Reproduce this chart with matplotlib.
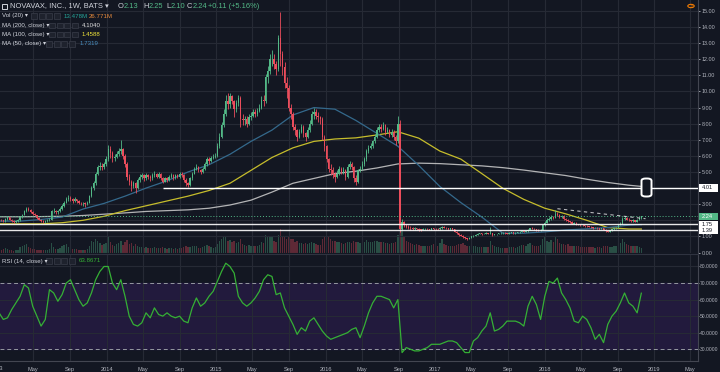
import matplotlib
matplotlib.use("Agg")
import matplotlib.pyplot as plt
from matplotlib.patches import Rectangle, FancyBboxPatch, Circle
import pandas as pd

W, H = 720, 372
BG = "#131722"
GRID = "#262a35"
TXT = "#b2b5be"
UP = "#53b987"
DOWN = "#eb4d5c"
FONT = ["Liberation Sans", "DejaVu Sans"]

# weekly candles from the week of 2013-01-07, open = previous close
first_open = 2.0
close = [
    2.05, 2.0, 1.95, 2.1, 2.2, 2.05, 1.95, 1.9, 1.95, 2.0,
    2.2, 2.35, 2.55, 2.7, 2.65, 2.5, 2.4, 2.3, 2.15, 2.05,
    1.95, 1.9, 1.95, 2.0, 2.05, 2.55, 2.6, 2.5, 2.55, 2.7,
    2.9, 3.1, 3.3, 3.4, 3.35, 3.2, 3.3, 3.2, 3.1, 3.05,
    3.05, 3.0, 3.1, 3.5, 4.0, 4.3, 4.9, 5.3, 5.4, 5.3,
    5.5, 5.8, 6.4, 6.2, 5.9, 5.95, 6.1, 6.3, 6.4, 6.0,
    5.5, 4.7, 4.4, 4.1, 4.3, 4.0, 4.5, 4.7, 4.8, 4.6,
    4.8, 4.7, 4.6, 4.8, 4.9, 4.7, 4.9, 4.6, 4.4, 4.6,
    4.5, 4.7, 4.8, 4.6, 4.8, 4.7, 4.9, 4.8, 4.5, 4.3,
    4.2, 4.6, 4.9, 5.2, 5.3, 5.1, 5.0, 5.2, 5.5, 5.8,
    5.7, 5.9, 5.95, 6.0, 6.6, 7.2, 7.9, 8.6, 9.4, 9.2,
    9.7, 9.4, 8.9, 9.3, 9.6, 8.3, 8.2, 8.3, 8.0, 8.4,
    8.5, 8.7, 8.6, 8.8, 9.0, 9.5, 9.4, 10.9, 11.3, 12.0,
    12.0, 11.7, 11.4, 13.3, 12.3, 11.5, 10.5, 10.2, 9.0, 8.6,
    7.8, 7.6, 7.2, 7.5, 7.8, 7.4, 7.2, 7.6, 8.0, 8.6,
    8.7, 8.5, 8.4, 8.3, 7.2, 6.6, 5.8, 5.2, 5.1, 4.9,
    4.7, 4.9, 5.2, 5.0, 5.1, 4.7, 5.3, 5.5, 5.3, 4.6,
    4.4, 5.1, 5.2, 5.5, 5.8, 6.3, 6.5, 6.6, 6.9, 7.2,
    7.6, 7.8, 7.7, 7.9, 7.5, 7.6, 7.3, 7.5, 7.2, 6.9,
    8.0, 1.45, 1.9, 1.7, 1.6, 1.55, 1.5, 1.45, 1.5, 1.45,
    1.42, 1.4, 1.45, 1.48, 1.44, 1.42, 1.5, 1.48, 1.45, 1.44,
    1.5, 1.6, 1.55, 1.5, 1.45, 1.5, 1.45, 1.3, 1.2, 1.1,
    1.05, 0.95, 0.9, 0.85, 0.9, 1.0, 1.05, 1.1, 1.15, 1.2,
    1.15, 1.18, 1.2, 1.17, 1.2, 1.1, 1.12, 1.15, 1.2, 1.2,
    1.22, 1.2, 1.18, 1.22, 1.25, 1.2, 1.22, 1.25, 1.28, 1.35,
    1.3, 1.32, 1.4, 1.5, 1.48, 1.45, 1.4, 1.38, 1.42, 1.7,
    1.85, 2.05, 2.1, 2.2, 2.15, 2.4, 2.35, 2.2, 2.25, 2.1,
    2.05, 1.95, 1.9, 1.8, 1.85, 1.75, 1.72, 1.7, 1.68, 1.65,
    1.62, 1.6, 1.58, 1.52, 1.55, 1.5, 1.45, 1.5, 1.42, 1.35,
    1.3, 1.38, 1.45, 1.5, 1.55, 1.7, 1.8, 2.1, 2.15, 2.05,
    2.0, 1.95, 2.0, 1.92, 2.05, 2.13, 2.24,
]
high = [
    2.12, 2.1, 2.05, 2.15, 2.28, 2.22, 2.1, 2.0, 2.02, 2.08,
    2.25, 2.42, 2.62, 2.85, 2.8, 2.7, 2.55, 2.45, 2.35, 2.2,
    2.1, 2.0, 2.02, 2.08, 2.12, 2.65, 2.75, 2.65, 2.65, 2.8,
    3.0, 3.2, 3.45, 3.6, 3.5, 3.4, 3.45, 3.35, 3.25, 3.15,
    3.15, 3.12, 3.2, 3.6, 4.1, 4.45, 5.0, 5.45, 5.6, 5.55,
    5.65, 6.0, 6.7, 6.6, 6.3, 6.1, 6.3, 6.5, 7.0, 6.5,
    6.1, 5.6, 4.9, 4.5, 4.45, 4.4, 4.6, 4.85, 4.95, 4.9,
    4.95, 4.9, 4.8, 4.95, 5.05, 4.95, 5.0, 4.95, 4.7, 4.7,
    4.7, 4.8, 4.95, 4.85, 4.9, 4.85, 5.0, 5.0, 4.85, 4.6,
    4.4, 4.7, 5.0, 5.3, 5.5, 5.35, 5.2, 5.3, 5.6, 5.95,
    5.95, 6.0, 6.1, 6.15, 6.8, 7.4, 8.1, 8.9, 9.8, 9.9,
    9.9, 9.8, 9.5, 9.5, 9.8, 9.7, 8.6, 8.5, 8.45, 8.6,
    8.7, 8.9, 8.9, 9.0, 9.2, 9.7, 9.8, 11.1, 11.6, 12.3,
    12.6, 12.3, 11.9, 13.5, 14.96, 12.5, 11.8, 10.9, 10.4, 9.2,
    8.7, 8.0, 7.7, 7.7, 8.0, 7.9, 7.5, 7.8, 8.2, 8.8,
    9.0, 8.9, 8.7, 8.5, 8.4, 7.3, 6.7, 5.9, 5.5, 5.3,
    5.0, 5.1, 5.4, 5.3, 5.3, 5.2, 5.5, 5.7, 5.6, 5.4,
    4.8, 5.2, 5.4, 5.7, 5.95, 6.45, 6.7, 6.8, 7.0, 7.35,
    7.8, 8.0, 8.0, 8.1, 8.0, 7.8, 7.7, 7.7, 7.6, 7.3,
    8.5, 8.2, 2.1, 1.95, 1.75, 1.7, 1.62, 1.56, 1.56, 1.55,
    1.5, 1.46, 1.5, 1.52, 1.5, 1.47, 1.55, 1.55, 1.5, 1.5,
    1.56, 1.65, 1.63, 1.58, 1.52, 1.54, 1.52, 1.47, 1.33, 1.22,
    1.13, 1.08, 0.98, 0.93, 0.95, 1.03, 1.1, 1.14, 1.19, 1.24,
    1.23, 1.22, 1.25, 1.22, 1.6, 1.22, 1.16, 1.18, 1.23, 1.25,
    1.26, 1.25, 1.22, 1.25, 1.28, 1.27, 1.25, 1.28, 1.32, 1.4,
    1.38, 1.36, 1.45, 1.55, 1.56, 1.52, 1.48, 1.43, 1.46, 1.75,
    1.95, 2.12, 2.2, 2.3, 2.28, 2.64, 2.5, 2.4, 2.32, 2.3,
    2.15, 2.08, 1.98, 1.95, 1.9, 1.88, 1.8, 1.76, 1.74, 1.72,
    1.7, 1.66, 1.64, 1.6, 1.58, 1.57, 1.52, 1.53, 1.52, 1.45,
    1.4, 1.42, 1.48, 1.55, 1.6, 1.75, 1.88, 2.2, 2.25, 2.2,
    2.12, 2.05, 2.06, 2.05, 2.1, 2.18, 2.25,
]
low = [
    1.95, 1.94, 1.9, 1.92, 2.05, 2.0, 1.9, 1.85, 1.86, 1.92,
    1.98, 2.15, 2.3, 2.5, 2.55, 2.45, 2.35, 2.25, 2.1, 2.0,
    1.9, 1.84, 1.86, 1.9, 1.95, 2.0, 2.45, 2.42, 2.42, 2.5,
    2.65, 2.85, 3.05, 3.2, 3.2, 3.1, 3.15, 3.1, 3.0, 2.95,
    2.9, 2.85, 2.92, 3.05, 3.45, 3.9, 4.2, 4.8, 5.15, 5.1,
    5.2, 5.4, 5.7, 5.9, 5.6, 5.7, 5.85, 6.0, 6.1, 5.8,
    5.3, 4.5, 4.2, 3.8, 4.0, 3.7, 3.95, 4.4, 4.55, 4.45,
    4.5, 4.55, 4.45, 4.5, 4.7, 4.6, 4.6, 4.5, 4.3, 4.35,
    4.4, 4.45, 4.6, 4.5, 4.55, 4.6, 4.65, 4.7, 4.4, 4.1,
    4.05, 4.15, 4.5, 4.85, 5.1, 5.0, 4.85, 4.95, 5.15, 5.4,
    5.5, 5.65, 5.8, 5.85, 5.95, 6.5, 7.1, 7.8, 8.5, 8.9,
    9.0, 9.2, 8.4, 8.7, 9.1, 7.8, 7.9, 7.9, 7.8, 7.9,
    8.2, 8.4, 8.4, 8.5, 8.7, 8.9, 9.1, 9.3, 10.5, 11.1,
    11.6, 11.4, 11.0, 11.3, 11.6, 11.0, 10.2, 9.6, 8.8, 8.3,
    7.6, 7.3, 6.9, 7.1, 7.4, 7.2, 6.9, 7.1, 7.5, 7.9,
    8.3, 8.3, 8.1, 8.0, 7.0, 6.3, 5.6, 5.0, 4.8, 4.6,
    4.4, 4.6, 4.8, 4.85, 4.9, 4.5, 4.6, 5.2, 5.1, 4.4,
    4.2, 4.3, 5.0, 5.15, 5.4, 5.7, 6.2, 6.4, 6.5, 6.8,
    7.1, 7.5, 7.5, 7.6, 7.3, 7.4, 7.2, 7.2, 7.0, 6.7,
    6.8, 1.3, 1.4, 1.6, 1.5, 1.45, 1.42, 1.38, 1.4, 1.38,
    1.35, 1.33, 1.38, 1.41, 1.4, 1.37, 1.4, 1.42, 1.4, 1.38,
    1.42, 1.48, 1.5, 1.45, 1.4, 1.42, 1.4, 1.25, 1.15, 1.05,
    1.0, 0.92, 0.86, 0.8, 0.83, 0.88, 0.98, 1.02, 1.08, 1.12,
    1.1, 1.12, 1.14, 1.13, 1.14, 1.05, 1.07, 1.1, 1.13, 1.15,
    1.16, 1.16, 1.14, 1.15, 1.19, 1.17, 1.18, 1.2, 1.23, 1.27,
    1.26, 1.27, 1.3, 1.38, 1.43, 1.4, 1.36, 1.34, 1.35, 1.4,
    1.65, 1.82, 1.98, 2.05, 2.08, 2.12, 2.25, 2.15, 2.12, 2.05,
    1.98, 1.9, 1.85, 1.75, 1.76, 1.7, 1.68, 1.65, 1.63, 1.6,
    1.58, 1.56, 1.54, 1.48, 1.5, 1.46, 1.4, 1.43, 1.38, 1.3,
    1.26, 1.28, 1.35, 1.42, 1.48, 1.52, 1.68, 1.78, 2.02, 2.0,
    1.95, 1.9, 1.92, 1.88, 1.9, 2.0, 2.10,
]
# weekly volume, millions
volume = [
    8, 7, 9, 12, 10, 8, 7, 6, 7, 8,
    14, 16, 20, 22, 15, 12, 10, 9, 8, 8,
    7, 7, 8, 8, 9, 25, 14, 10, 9, 12,
    18, 20, 22, 15, 12, 10, 11, 9, 8, 8,
    7, 7, 9, 18, 30, 28, 35, 30, 25, 20,
    22, 25, 40, 28, 20, 18, 22, 25, 30, 20,
    28, 32, 22, 25, 18, 22, 18, 15, 14, 12,
    14, 12, 12, 13, 14, 12, 13, 12, 14, 12,
    11, 12, 13, 11, 12, 11, 12, 12, 14, 16,
    15, 14, 16, 18, 16, 13, 12, 14, 18, 20,
    16, 14, 13, 14, 22, 30, 35, 38, 40, 30,
    32, 28, 30, 25, 28, 35, 22, 20, 18, 20,
    18, 17, 16, 18, 20, 28, 25, 45, 40, 42,
    38, 30, 28, 45, 60, 40, 38, 35, 40, 35,
    35, 28, 30, 25, 24, 22, 25, 22, 24, 28,
    25, 22, 20, 20, 35, 38, 42, 40, 35, 30,
    30, 26, 28, 24, 22, 25, 28, 26, 24, 30,
    28, 26, 24, 26, 28, 32, 28, 26, 28, 30,
    30, 28, 26, 27, 25, 24, 22, 24, 25, 28,
    45, 110, 60, 40, 30, 28, 24, 22, 20, 22,
    20, 18, 17, 18, 18, 17, 20, 22, 18, 18,
    25, 35, 22, 20, 18, 18, 16, 18, 20, 22,
    22, 24, 20, 18, 17, 18, 18, 16, 15, 15,
    14, 15, 14, 14, 30, 20, 16, 14, 14, 13,
    12, 13, 12, 14, 15, 14, 13, 14, 16, 20,
    20, 18, 22, 25, 20, 18, 16, 18, 20, 35,
    40, 30, 28, 32, 28, 40, 35, 25, 22, 22,
    20, 22, 18, 17, 16, 17, 16, 15, 15, 15,
    14, 14, 15, 14, 13, 14, 15, 13, 16, 18,
    16, 15, 14, 16, 18, 22, 25, 35, 28, 22,
    20, 18, 16, 16, 18, 14, 13,
]
# moving averages read every 10th week, plus the last week
ma200 = [2.22, 2.22, 2.23, 2.25, 2.3, 2.38, 2.46, 2.55, 2.6, 2.65, 2.75, 2.95,
         3.25, 3.75, 4.3, 4.6, 4.9, 5.05, 5.25, 5.5, 5.55, 5.52, 5.45, 5.38,
         5.27, 5.12, 4.95, 4.78, 4.55, 4.35, 4.18, 4.104]
ma100 = [1.78, 1.78, 1.78, 1.85, 2.0, 2.25, 2.6, 2.9, 3.2, 3.5, 3.85, 4.3,
         5.1, 5.9, 6.5, 6.9, 7.05, 7.12, 7.3, 7.5, 7.1, 6.3, 5.8, 4.9,
         3.99, 3.3, 2.75, 2.4, 2.0, 1.55, 1.46, 1.4588]
ma50 = [1.95, 1.95, 2.05, 2.2, 2.7, 3.05, 3.5, 4.0, 4.45, 5.0, 5.45, 6.1,
        6.9, 7.6, 8.54, 9.0, 8.9, 8.2, 7.4, 6.6, 5.4, 4.1, 3.1, 2.2,
        1.2, 1.2, 1.28, 1.4, 1.47, 1.55, 1.7, 1.7319]
# RSI(14) read every 2nd week
rsi = [
    52, 48, 49, 54, 58, 62, 69, 67, 56, 50,
    44, 48, 66, 64, 59, 63, 70, 72, 66, 60,
    56, 58, 64, 72, 77, 80, 80, 70, 66, 72,
    62, 50, 45, 44, 46, 52, 49, 55, 51, 50,
    52, 50, 49, 50, 47, 46, 55, 61, 56, 58,
    62, 65, 71, 77, 82, 80, 76, 62, 58, 56,
    58, 61, 65, 72, 75, 74, 63, 64, 55, 50,
    45, 39, 43, 41, 47, 49, 45, 41, 38, 36,
    37, 38, 39, 40, 42, 43, 37, 44, 52, 58,
    62, 62, 61, 60, 55, 60, 28, 31, 30, 29,
    29, 30, 31, 33, 33, 33, 34, 35, 35, 34,
    31, 28, 28, 35, 37, 41, 44, 52, 41, 42,
    44, 47, 47, 47, 46, 44, 56, 62, 57, 48,
    62, 71, 70, 73, 64, 60, 55, 47, 46, 50,
    48, 43, 36, 39, 34, 45, 50, 53, 58, 64,
    58, 56, 52, 63.87,
]

support = 4.01
levels = [1.75, 1.39]
last_price = 2.24

dates = pd.date_range("2013-01-07", periods=len(close), freq="W-MON")
opens = [first_open] + close[:-1]
ma_dates = list(dates[::10]) + [dates[-1]]
rsi_dates = dates[::2]
colors = [UP if c >= o else DOWN for o, c in zip(opens, close)]
x0 = pd.Timestamp("2013-01-10")
x1 = pd.Timestamp("2019-05-27")


def fx(x):
    return x / W


def fy(y):
    return 1 - y / H


fig = plt.figure(figsize=(7.2, 3.72), dpi=100, facecolor=BG)
ax = fig.add_axes([0, fy(253), fx(698), 253 / H])
vax = ax.twinx()
rax = fig.add_axes([0, fy(361), fx(698), 107 / H])
ax.set_zorder(2)
ax.patch.set_visible(False)
vax.set_zorder(1)
vax.patch.set_facecolor(BG)

# volume
vax.bar(dates, volume, width=4.5, color=colors, alpha=0.35, linewidth=0)
vax.set_ylim(0, 620)
vax.set_yticks([])
for s in vax.spines.values():
    s.set_visible(False)

# candles
ax.vlines(dates, low, high, colors=colors, linewidth=0.6, zorder=3)
bodies = [max(abs(c - o), 0.03) for o, c in zip(opens, close)]
ax.bar(dates, bodies, bottom=[min(o, c) for o, c in zip(opens, close)],
       width=4.5, color=colors, linewidth=0, zorder=4)

# moving averages
ax.plot(ma_dates, ma200, color="#d0d0d0", lw=0.9, alpha=0.85, zorder=2)
ax.plot(ma_dates, ma100, color="#c6bd2c", lw=0.9, zorder=2)
ax.plot(ma_dates, ma50, color="#34698c", lw=0.9, zorder=2)

# drawn levels
ax.hlines(support, pd.Timestamp("2014-07-08"), x1, color="white", lw=1.0, zorder=5)
for lv in levels:
    ax.axhline(lv, color="white", lw=1.0, alpha=0.9, zorder=5)
ax.axhline(last_price, color=UP, lw=0.7, ls=(0, (1, 2)), zorder=5)
ax.plot([dates[266], dates[-1] + pd.Timedelta(days=14)], [2.72, 2.1],
        color="white", lw=0.8, ls=(0, (3, 3)), alpha=0.7, zorder=5)

# RSI
rax.set_facecolor(BG)
rax.axhspan(30, 70, color="#221a3d", zorder=0)
rax.plot(rsi_dates, rsi, color="#35b035", lw=0.9, zorder=3)
for lv in (30, 70):
    rax.axhline(lv, color="#9598a1", lw=0.7, ls=(0, (4, 3)), zorder=2)

# grid and ticks
tick_dates, tick_labels = [], []
for yr in range(2013, 2020):
    for m, name in ((1, str(yr)), (5, "May"), (9, "Sep")):
        tick_dates.append(pd.Timestamp(yr, m, 1))
        tick_labels.append(name)
for a in (ax, rax):
    for d in tick_dates:
        a.axvline(d, color=GRID, lw=0.8, zorder=0)
for p in range(0, 16):
    ax.axhline(p, color=GRID, lw=0.8, zorder=0)
for r in (40, 50, 60, 80):
    rax.axhline(r, color=GRID, lw=0.8, zorder=0)

price_ticks = [0, 1, 3, 5, 6, 7, 8, 9, 10, 11, 12, 13, 14, 15]
ax.yaxis.tick_right()
ax.set_yticks(price_ticks)
ax.set_yticklabels([f"{v:.2f}" for v in price_ticks])
rsi_ticks = [30, 40, 50, 60, 70, 80]
rax.yaxis.tick_right()
rax.set_yticks(rsi_ticks)
rax.set_yticklabels([f"{v:.4f}" for v in rsi_ticks])
rax.set_xticks(tick_dates)
rax.set_xticklabels(tick_labels)
for a in (ax, rax):
    a.tick_params(axis="y", colors=TXT, labelsize=3.9, length=1.5, width=0.6, pad=1)
    for lab in a.get_yticklabels():
        lab.set_family(FONT)
    for s in a.spines.values():
        s.set_visible(False)
    a.spines["right"].set_visible(True)
    a.spines["right"].set_color("#434651")
    a.spines["right"].set_linewidth(0.8)
rax.tick_params(axis="y", labelsize=3.6, length=1, pad=0.6)
ax.tick_params(axis="x", bottom=False, labelbottom=False)
rax.tick_params(axis="x", colors=TXT, labelsize=4.1, length=0, pad=4.5)
for lab in rax.get_xticklabels():
    lab.set_family(FONT)
rax.spines["bottom"].set_visible(True)
rax.spines["bottom"].set_color("#434651")
rax.spines["top"].set_visible(True)
rax.spines["top"].set_color("#2f3340")
fig.text(fx(-3), fy(369), "2013", color=TXT, fontsize=4.1, ha="center", va="center",
         family=FONT)

for a in (ax, vax, rax):
    a.set_xlim(x0, x1)
ax.set_ylim(-0.03, 15.68)
rax.set_ylim(22.9, 87.55)


# price scale labels
def scale_tag(y, text, fc, tc):
    fig.add_artist(Rectangle((fx(699), fy(y + 3.8)), 19 / W, 7.6 / H,
                             transform=fig.transFigure, fc=fc, ec="none", zorder=10))
    fig.text(fx(702), fy(y), text, color=tc, fontsize=4.1, ha="left", va="center",
             family=FONT, zorder=11)


def price_y(p):
    return 11 + (15 - p) * 16.1


scale_tag(price_y(support), "4.01", "white", "#131722")
scale_tag(price_y(last_price), "2.24", UP, "white")
for lv in levels:
    scale_tag(price_y(lv), f"{lv:.2f}", "white", "#131722")

fig.add_artist(FancyBboxPatch((fx(641.5), fy(196.5)), 10 / W, 18 / H,
                              boxstyle="round,pad=0,rounding_size=0.006",
                              transform=fig.transFigure, fc=BG, ec="white",
                              lw=1.4, zorder=10))


# legend rows
def icons(x, y):
    for k in range(4):
        fig.add_artist(Rectangle((fx(x + 7.5 * k), fy(y + 2.8)), 6 / W, 5.6 / H,
                                 transform=fig.transFigure, fc="#1e222d",
                                 ec="#3a3e4a", lw=0.5, zorder=10))


def label(x, y, s, color="#d1d4dc", size=4.4):
    fig.text(fx(x), fy(y), s, color=color, fontsize=size, ha="left", va="center",
             family=FONT, zorder=11)


fig.add_artist(Rectangle((fx(2), fy(8.5)), 5 / W, 5 / H, transform=fig.transFigure,
                         fc="none", ec="#d1d4dc", lw=0.7, zorder=10))
label(10, 6, "NOVAVAX, INC., 1W, BATS \u25be", size=5.4)
for x, s, c in ((118, "O", "#d1d4dc"), (123.5, "2.13", UP), (143, "H", "#d1d4dc"),
                (148.5, "2.25", UP), (166, "L", "#d1d4dc"), (170.5, "2.10", UP),
                (187, "C", "#d1d4dc"), (192.5, "2.24", UP), (208, "+0.11 (+5.16%)", UP)):
    label(x, 6, s, color=c, size=5.4)

label(2, 16, "Vol (20) \u25be")
icons(31, 16)
label(64, 16, "13.478M", color="#26a69a")
label(89, 16, "26.771M", color="#e68a3c")
label(2, 25.3, "MA (200, close) \u25be")
icons(49, 25.3)
label(82, 25.3, "4.1040", color="#e0e0e0")
label(2, 34.3, "MA (100, close) \u25be")
icons(49, 34.3)
label(82, 34.3, "1.4588", color="#f0e43a")
label(2, 43.7, "MA (50, close) \u25be")
icons(46, 43.7)
label(80, 43.7, "1.7319", color="#4a8fc0")
label(2, 261, "RSI (14, close) \u25be")
icons(46, 261)
label(79, 261, "63.8671", color="#35b035")

fig.add_artist(Circle((fx(691), fy(6)), 3.2 / W, transform=fig.transFigure,
                      fc="none", ec="#f57c00", lw=0.8, zorder=10))
fig.text(fx(691), fy(6), "!", color="#f57c00", fontsize=4.5, ha="center",
         va="center", family=FONT, fontweight="bold", zorder=11)

fig.savefig("out.png", dpi=100, facecolor=BG)
